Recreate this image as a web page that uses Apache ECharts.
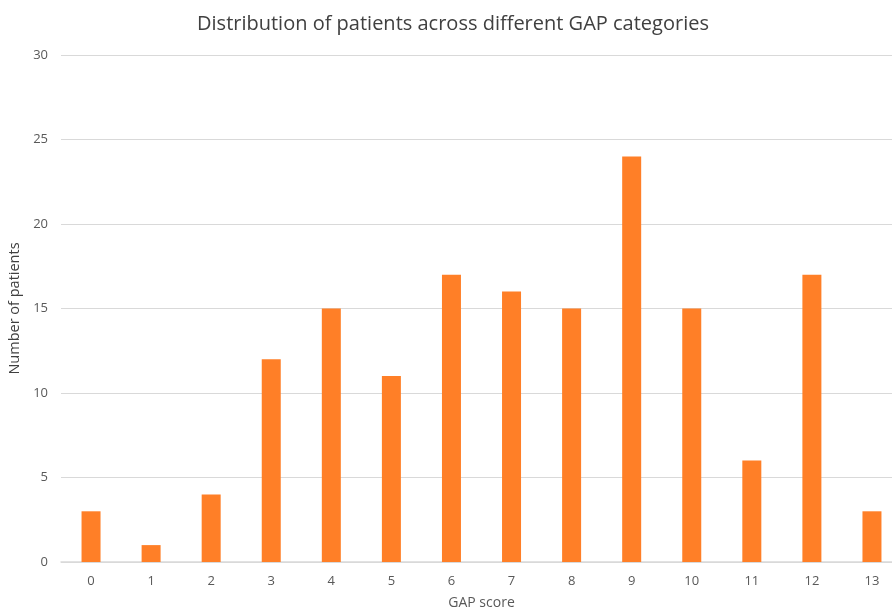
<!DOCTYPE html>
<html><head><meta charset="utf-8">
<script src="https://cdn.jsdelivr.net/npm/echarts@6/dist/echarts.min.js"></script>
<style>html,body{margin:0;padding:0;background:#fff}#c{width:892px;height:614px}</style>
</head><body><div id="c"></div>
<script>
const categories = ['0','1','2','3','4','5','6','7','8','9','10','11','12','13'];
const patients = [3,1,4,12,15,11,17,16,15,24,15,6,17,3];
const yTicks = {min:0, max:30, interval:5};
const chart = echarts.init(document.getElementById('c'));
const font = 'Open Sans';
chart.setOption({
  animation:false,
  title:{text:'Distribution of patients across different GAP categories', left:448, textAlign:'center', top:9,
    textStyle:{fontFamily:font, fontSize:20, fontWeight:'normal', color:'#404040'}},
  grid:{left:61, top:55, width:841, height:507, containLabel:false, outerBoundsMode:'none'},
  xAxis:{type:'category', data:categories, name:'GAP score', nameLocation:'middle', nameGap:34,
    nameTextStyle:{fontFamily:font, fontSize:14, color:'#595959'},
    axisLine:{lineStyle:{color:'#d9d9d9', width:1.5}}, axisTick:{show:false},
    axisLabel:{fontFamily:font, fontSize:13, color:'#595959', margin:13}},
  yAxis:{type:'value', min:yTicks.min, max:yTicks.max, interval:yTicks.interval, name:'Number of patients',
    nameLocation:'middle', nameGap:36, nameTextStyle:{fontFamily:font, fontSize:14.5, color:'#404040'},
    axisLine:{show:false}, axisTick:{show:false},
    axisLabel:{fontFamily:font, fontSize:13, color:'#595959', margin:13},
    splitLine:{lineStyle:{color:'#d9d9d9', width:1}}},
  series:[{type:'bar', data:patients, barWidth:19, itemStyle:{color:'#FF7F27'}}]
});
</script></body></html>
